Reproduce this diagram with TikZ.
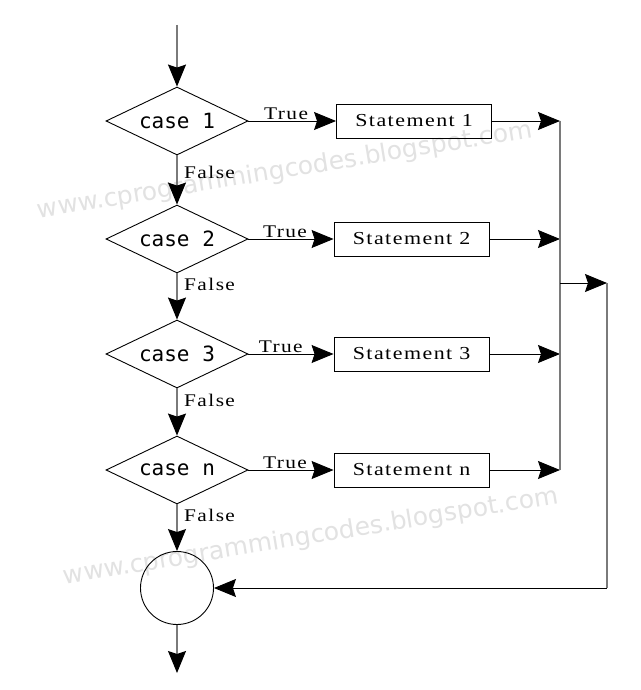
\documentclass[tikz,border=0pt]{standalone}
\usepackage{fontspec}
\setmainfont{Liberation Serif}
\newfontfamily\casefont{DejaVu Sans Mono}
\newfontfamily\stfont[FakeStretch=1.2,LetterSpace=8]{Liberation Serif}
\newfontfamily\wmfont{DejaVu Sans}
\usetikzlibrary{shapes.geometric,arrows.meta}
\definecolor{linegray}{HTML}{7A7A7A}
\definecolor{wmgray}{HTML}{E2E2E2}
\begin{document}
\begin{tikzpicture}[x=1pt,y=-1pt,
  dec/.style={draw=black,line width=0.9pt,shape=diamond,aspect=2.09,inner sep=0pt,
    minimum width=142pt,minimum height=68pt,font=\casefont\fontsize{21}{22}\selectfont},
  stbox/.style={draw=black,line width=0.9pt,rectangle,inner sep=0pt,minimum width=155pt,
    minimum height=34pt,font=\stfont\fontsize{18.3}{20}\selectfont},
  endc/.style={draw=black,line width=0.9pt,circle,inner sep=0pt,minimum size=73pt},
  lbl/.style={font=\stfont\fontsize{17.8}{19}\selectfont,inner sep=1pt},
  tip/.style={-{Stealth[length=22pt,width=18pt,inset=3pt,color=black,fill=black]}},
  vline/.style={draw=linegray,line width=1.1pt},
  hline/.style={draw=black,line width=0.9pt},
  wm/.style={text=wmgray,font=\wmfont\fontsize{25}{26}\selectfont,rotate=9.3}]
\useasboundingbox (0,0) rectangle (640,690);
\fill[white] (0,0) rectangle (640,690);
% watermarks
\node[wm] (wm1) at (285,171) {www.cprogrammingcodes.blogspot.com};
\node[wm] (wm2) at (311,537) {www.cprogrammingcodes.blogspot.com};
% nodes
\node[dec] (d1) at (177,121) {case 1\hspace{10pt}};
\node[dec] (d2) at (177,239) {case 2\hspace{10pt}};
\node[dec] (d3) at (177,354) {case 3\hspace{10pt}};
\node[dec] (dn) at (177,470) {case n\hspace{10pt}};
\node[endc] (c) at (177,588) {};
\node[stbox] (s1) at (414,121) {Statement 1};
\node[stbox] (s2) at (411.5,239) {Statement 2};
\node[stbox] (s3) at (411.5,354) {Statement 3};
\node[stbox] (sn) at (411.5,470) {Statement n};
\coordinate (top) at (177,25);
\coordinate (bot) at (177,673);
\coordinate (j1) at (560,121);
\coordinate (j2) at (560,239);
\coordinate (j3) at (560,354);
\coordinate (jn) at (560,470);
\coordinate (jm) at (560,283);
\coordinate (k1) at (607,283);
\coordinate (k2) at (607,588);
% vertical flow
\draw[vline,tip] (top) -- (d1.north);
\draw[vline,tip] (d1.south) -- (d2.north);
\draw[vline,tip] (d2.south) -- (d3.north);
\draw[vline,tip] (d3.south) -- (dn.north);
\draw[vline,tip] (dn.south) -- (c.north);
\draw[vline,tip] (c.south) -- (bot);
\node[lbl,anchor=west] (f1) at (183,172) {False};
\node[lbl,anchor=west] (f2) at (183,284) {False};
\node[lbl,anchor=west] (f3) at (183,400) {False};
\node[lbl,anchor=west] (fn) at (183,515) {False};
% true branches
\draw[hline,tip] (d1.east) -- node[lbl,above,pos=0.43] {True} (s1.west);
\draw[hline,tip] (d2.east) -- node[lbl,above,pos=0.43] {True} (s2.west);
\draw[hline,tip] (d3.east) -- node[lbl,above,pos=0.38] {True} (s3.west);
\draw[hline,tip] (dn.east) -- node[lbl,above,pos=0.43] {True} (sn.west);
% to merge line
\draw[hline,tip] (s1.east) -- (j1);
\draw[hline,tip] (s2.east) -- (j2);
\draw[hline,tip] (s3.east) -- (j3);
\draw[hline,tip] (sn.east) -- (jn);
\draw[vline] (j1) -- (jn);
\draw[hline,tip] (jm) -- (k1);
\draw[vline] (k1) -- (k2);
\draw[hline,tip] (k2) -- (c.east);
\end{tikzpicture}
\end{document}
